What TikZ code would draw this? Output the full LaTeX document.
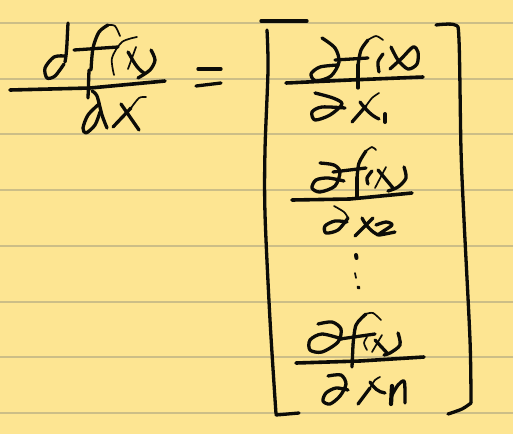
\documentclass[tikz,border=0pt]{standalone}
\usepackage{xcolor}
\usetikzlibrary{calc}
\definecolor{padyellow}{RGB}{253,229,146}
\definecolor{padrule}{RGB}{204,190,135}
\definecolor{penink}{RGB}{12,12,8}
\begin{document}
\begin{tikzpicture}[x=1pt,y=-1pt,line join=round,line cap=round,
	pen/.style={line width=3.3pt,penink},
	thinpen/.style={line width=1.7pt,penink},
	barpen/.style={line width=3.6pt,penink}]
\fill[padyellow] (0,0) rectangle (513,434);
\useasboundingbox (0,0) rectangle (513,434);
\foreach \yy in {23,79,134,190,246,302,357,413}
	{\draw[padrule,line width=1.2pt] (0,\yy) -- (513,\yy);}
% left fraction
\draw[pen] (68,23) .. controls (67,40) and (67,52) .. (65,62);
\draw[pen] plot[smooth] coordinates {(65,56) (54,57) (45,68) (47,78) (55,76) (64,64)};
\draw[pen] plot[smooth] coordinates {(91,70) (93,48) (99,32) (108,25)};
\draw[thinpen] plot[smooth] coordinates {(108,25) (115,26) (120,36)};
\draw[pen] (89,70) -- (88,98);
\draw[pen] (74,50) -- (118,47);
\draw[thinpen] plot[smooth] coordinates {(137,37) (122,42) (112,58) (114,75)};
\draw[pen] (128,52) .. controls (133,60) and (136,68) .. (144,73);
\draw[thinpen] (128,69) -- (136,47);
\draw[pen] plot[smooth] coordinates {(151,50) (155,60) (150,70) (138,78)};
\draw[barpen] (10,90) -- (90,88) -- (165,81);
\draw[pen] plot[smooth] coordinates {(92,91) (97,96) (102,115) (107,128)};
\draw[pen] plot[smooth] coordinates {(99,104) (88,115) (83,128) (86,133) (95,125) (100,112)};
\draw[pen] (113,127) -- (131,108);
\draw[thinpen] plot[smooth] coordinates {(131,108) (139,98) (146,97)};
\draw[pen] (121,104) -- (139,130);
% equals sign
\draw[pen] (198,69) -- (221,69);
\draw[pen] (196,86) -- (221,83);
% brackets
\draw[pen] (261,21) -- (307,21);
\draw[pen] plot[smooth] coordinates {(267,30) (268,70) (265,150) (265,214) (270,320) (276,414)};
\draw[pen] (276,415) -- (299,413);
\draw[pen] plot[smooth] coordinates {(436,25) (455,25) (459,40) (461,150) (464,220) (470,340) (471,403)};
\draw[pen] plot[smooth] coordinates {(471,403) (462,409) (448,414)};
% first row
\draw[barpen] (286,83) -- (350,80) -- (423,77);
\draw[pen] plot[smooth] coordinates {(322,38) (335,48) (339,62) (331,76) (316,81) (311,74) (320,67) (338,65)};
\draw[pen] (358,88) -- (358,65);
\draw[pen] plot[smooth] coordinates {(358,65) (361,50) (368,40)};
\draw[thinpen] plot[smooth] coordinates {(368,40) (376,36) (383,40)};
\draw[pen] (335,60) -- (368,58);
\draw[pen] plot[smooth] coordinates {(383,54) (378,62) (379,72)};
\draw[pen] plot[smooth] coordinates {(390,69) (402,58) (413,47) (418,52) (417,64) (408,69) (398,60) (391,47)};
\draw[pen] plot[smooth] coordinates {(315,93) (333,98) (342,104) (330,115) (315,120) (312,112) (322,107) (345,108)};
\draw[pen] (352,122) -- (366,106);
\draw[thinpen] plot[smooth] coordinates {(366,106) (372,98) (379,93)};
\draw[pen] (360,102) .. controls (366,110) and (372,116) .. (379,119);
\draw[line width=4pt,penink] (385,114) -- (385,122);
% second row
\draw[barpen] (292,200) -- (350,199) -- (412,193);
\draw[pen] plot[smooth] coordinates {(320,163) (334,165) (340,172) (335,186) (320,192) (312,188) (316,180) (328,178) (344,181)};
\draw[pen] (357,198) -- (357,178);
\draw[pen] plot[smooth] coordinates {(357,178) (359,163) (366,151)};
\draw[thinpen] plot[smooth] coordinates {(366,151) (372,147) (376,150)};
\draw[pen] (333,172) -- (366,168);
\draw[pen] plot[smooth] coordinates {(372,171) (367,178) (368,184)};
\draw[pen] (378,170) -- (393,188);
\draw[thinpen] (375,188) -- (386,167);
\draw[pen] plot[smooth] coordinates {(404,167) (406,178) (398,187) (388,191)};
\draw[thinpen] plot[smooth] coordinates {(334,206) (344,212) (348,218)};
\draw[pen] plot[smooth] coordinates {(348,218) (338,230) (326,233) (325,226) (335,221) (347,222)};
\draw[pen] (355,236) -- (373,218);
\draw[pen] (362,218) .. controls (366,226) and (372,232) .. (378,235);
\draw[pen] plot[smooth] coordinates {(376,225) (386,222) (392,225) (382,232) (379,235) (395,232)};
% dots
\draw[line width=4pt,penink] (356,255) -- (356.5,258);
\draw[thinpen] (355,273) -- (356,278);
\draw[line width=3.2pt,penink] (358,287) -- (359,288);
% last row
\draw[barpen] (296,363) -- (360,361) -- (424,357);
\draw[pen] plot[smooth] coordinates {(318,324) (332,322) (341,329) (338,342) (322,352) (310,350) (310,340) (322,334) (342,339)};
\draw[pen] (352,367) -- (353,345);
\draw[pen] plot[smooth] coordinates {(353,345) (356,325) (366,314)};
\draw[thinpen] plot[smooth] coordinates {(366,314) (373,313) (381,320)};
\draw[pen] (340,339) -- (375,334);
\draw[thinpen] plot[smooth] coordinates {(367,337) (364,343) (367,350)};
\draw[pen] (375,340) -- (388,354);
\draw[thinpen] (372,352) -- (382,335);
\draw[pen] plot[smooth] coordinates {(398,333) (400,345) (390,353) (384,355)};
\draw[pen] plot[smooth] coordinates {(328,376) (341,375) (346,384) (340,396) (330,404) (323,401) (326,393) (336,388) (348,390)};
\draw[pen] (358,404) -- (370,388);
\draw[thinpen] plot[smooth] coordinates {(370,388) (375,380) (380,377)};
\draw[pen] (370,382) .. controls (374,388) and (378,392) .. (385,393);
\draw[line width=4.2pt,penink] (392,386) -- (391,404);
\draw[pen] plot[smooth] coordinates {(392,395) (398,385) (404,381) (405,392) (405,403)};
\end{tikzpicture}
\end{document}
